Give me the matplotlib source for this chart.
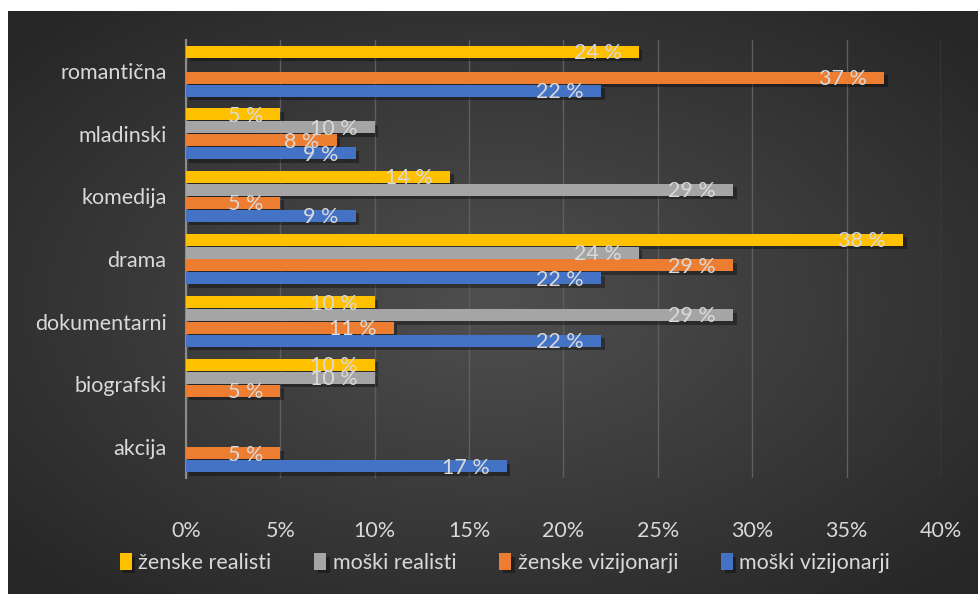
import matplotlib.pyplot as plt
import matplotlib.patheffects as pe
import numpy as np

# data
categories = ['akcija', 'biografski', 'dokumentarni', 'drama', 'komedija', 'mladinski', 'romantična']
series_names = ['ženske realisti', 'moški realisti', 'ženske vizijonarji', 'moški vizijonarji']
zenske_realisti = [0, 10, 10, 38, 14, 5, 24]
moski_realisti = [0, 10, 29, 24, 29, 10, 0]
zenske_vizijonarji = [5, 5, 11, 29, 5, 8, 37]
moski_vizijonarji = [17, 0, 22, 22, 9, 9, 22]
colors = ['#FFC000', '#A5A5A5', '#ED7D31', '#4472C4']
x_ticks = [0, 5, 10, 15, 20, 25, 30, 35, 40]

txt = '#D9D9D9'
fs = 15.5
plt.rcParams['font.family'] = ['Lato', 'DejaVu Sans']

fig = plt.figure(figsize=(9.79, 5.94), dpi=100, facecolor='white')

# radial gradient background
W, H = 979, 594
bx0, by1 = 8, 11
bg = fig.add_axes([bx0 / W, 0, (W - bx0) / W, (H - by1) / H])
yy, xx = np.mgrid[0:300, 0:500]
cx, cy = 250, 150
r = np.sqrt(((xx - cx) / 250.0) ** 2 + ((yy - cy) / 150.0) ** 2)
r = np.clip(r / 1.35, 0, 1)
g = 0.31 - (0.31 - 0.15) * r
bg.imshow(np.dstack([g, g, g]), aspect='auto', extent=[0, 1, 0, 1])
bg.set_axis_off()

ax = fig.add_axes([186 / W, 116 / H, 755 / W, 438 / H])
ax.patch.set_alpha(0)

s = 0.207
offsets = [1.5 * s, 0.5 * s, -0.5 * s, -1.5 * s]
all_series = [zenske_realisti, moski_realisti, zenske_vizijonarji, moski_vizijonarji]
y = np.arange(len(categories))
shadow = [pe.SimplePatchShadow(offset=(2.5, -2.5), shadow_rgbFace='black', alpha=0.35), pe.Normal()]

for name, vals, col, off in zip(series_names, all_series, colors, offsets):
    vals = np.array(vals, dtype=float)
    mask = vals > 0
    bars = ax.barh(y[mask] + off, vals[mask], height=s * 0.93, color=col, label=name, zorder=3)
    for b in bars:
        b.set_path_effects(shadow)
    for yi, v in zip(y[mask] + off, vals[mask]):
        ax.annotate(f'{int(v)} %', (v, yi), xytext=(-12.5, -1), textcoords='offset points',
                    ha='right', va='center', color=txt, fontsize=fs, zorder=5)

ax.set_xlim(0, 40)
ax.set_ylim(-0.5, 6.5)
ax.set_xticks(x_ticks)
ax.set_xticklabels([f'{t}%' for t in x_ticks], color=txt, fontsize=fs)
ax.set_yticks(y)
ax.set_yticklabels(categories, color=txt, fontsize=fs)
ax.tick_params(axis='both', length=0)
ax.tick_params(axis='x', pad=31)
ax.tick_params(axis='y', pad=14)
ax.grid(axis='x', color='#5E5E5E', linewidth=1, zorder=0)
for side in ['top', 'right', 'bottom']:
    ax.spines[side].set_visible(False)
ax.spines['left'].set_color('#8C8C8C')
ax.spines['left'].set_linewidth(1.5)

leg = fig.legend(loc='center', bbox_to_anchor=(505 / W, 1 - 563 / H), ncol=4, frameon=False,
                 fontsize=fs, labelcolor=txt, handlelength=0.55, handleheight=0.8,
                 handletextpad=0.3, columnspacing=2.0)

fig.savefig('out.png', dpi=100, facecolor='white')
